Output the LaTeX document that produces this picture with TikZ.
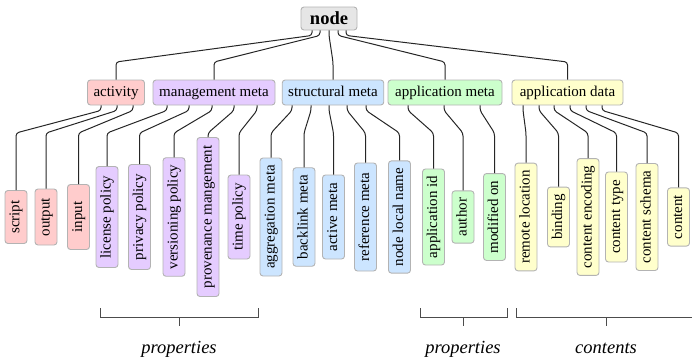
\documentclass[tikz,border=0pt]{standalone}
\usepackage{fontspec}
\setmainfont{Liberation Serif}

\definecolor{rootfill}{HTML}{E6E6E6}
\definecolor{actfill}{HTML}{FFCCCC}
\definecolor{mgmtfill}{HTML}{E5CCFF}
\definecolor{structfill}{HTML}{CCE5FF}
\definecolor{ametafill}{HTML}{CCFFCC}
\definecolor{adatafill}{HTML}{FFFFCC}
\definecolor{boxline}{HTML}{B3B3B3}

\begin{document}
\begin{tikzpicture}[x=1pt, y=-1pt,
    every node/.style={inner ysep=0pt},
    box/.style={draw=boxline, line width=0.9pt, rounded corners=3pt, inner xsep=6pt,
      minimum height=25pt, text height=10.5pt, text depth=3.5pt,
      font=\fontsize{15}{18}\selectfont},
    leaf/.style={box, rotate=90, inner xsep=7pt, minimum height=22pt},
    link/.style={draw=black!85, line width=1pt, rounded corners=3pt},
    brace/.style={draw=black!70, line width=1pt},
    group/.style={anchor=base, font=\fontsize{18.5}{22}\selectfont\itshape}]
  \useasboundingbox (0,0) rectangle (692,356);

  % Root
  \node[box, fill=rootfill, minimum width=56pt, minimum height=23pt, text height=12.5pt,
    text depth=0pt, font=\fontsize{18.5}{22}\selectfont\bfseries] (root) at (329,18.5) {node};

  % Categories
  \node[box, fill=actfill, minimum width=56pt] (act) at (116,92.5) {activity};
  \node[box, fill=mgmtfill, minimum width=122pt] (mgmt) at (214,92.5) {management meta};
  \node[box, fill=structfill, minimum width=100pt] (struct) at (333,92.5) {structural meta};
  \node[box, fill=ametafill, minimum width=114pt] (ameta) at (445,92.5) {application meta};
  \node[box, fill=adatafill, minimum width=111pt] (adata) at (567.5,92.5) {application data};

  \foreach \name/\dx in {act/-17, mgmt/-9, struct/0, ameta/9, adata/17} {
    \draw[link] (root.south) ++(\dx,0) -- ++(0,5) -- (\name.north |- 0,62) -- (\name.north);
  }

  % Leaves: text / x / length / anchor offset on the parent
  \foreach \txt/\x/\len/\dx [count=\i] in {script/16/53/-15, output/46/56/1, input/78.5/65/17} {
    \node[leaf, fill=actfill, minimum width=\len pt] (act\i) at (\x,217) {\txt};
    \draw[link] (act.south) ++(\dx,0) -- ++(0,5) -- (act\i.east |- 0,133) -- (act\i.east);
  }
  \foreach \txt/\x/\len/\dx [count=\i] in {license policy/107/101/-47, privacy policy/139.5/105/-25,
      versioning policy/174/113/-2, provenance mangement/208/159/20, time policy/239/84/43} {
    \node[leaf, fill=mgmtfill, minimum width=\len pt] (mgmt\i) at (\x,217) {\txt};
    \draw[link] (mgmt.south) ++(\dx,0) -- ++(0,5) -- (mgmt\i.east |- 0,133) -- (mgmt\i.east);
  }
  \foreach \txt/\x/\len/\dx [count=\i] in {aggregation meta/271/118/-41, backlink meta/304/92/-22,
      active meta/333.5/84/-4, reference meta/365.5/108/14, node local name/399.5/112/33} {
    \node[leaf, fill=structfill, minimum width=\len pt] (struct\i) at (\x,217) {\txt};
    \draw[link] (struct.south) ++(\dx,0) -- ++(0,5) -- (struct\i.east |- 0,133) -- (struct\i.east);
  }
  \foreach \txt/\x/\len/\dx [count=\i] in {application id/433.5/95/-37, author/463/52/-1,
      modified on/494.5/84/35} {
    \node[leaf, fill=ametafill, minimum width=\len pt] (ameta\i) at (\x,217) {\txt};
    \draw[link] (ameta.south) ++(\dx,0) -- ++(0,5) -- (ameta\i.east |- 0,133) -- (ameta\i.east);
  }
  \foreach \txt/\x/\len/\dx [count=\i] in {remote location/526/107/-44.5, binding/558.5/54/-28.5,
      content encoding/588/114/-13.5, content type/616.5/90/2.5, content schema/647/107/18.5,
      content/678.5/56/34.5} {
    \node[leaf, fill=adatafill, minimum width=\len pt] (adata\i) at (\x,217) {\txt};
    \draw[link] (adata.south) ++(\dx,0) -- ++(0,5) -- (adata\i.east |- 0,133) -- (adata\i.east);
  }

  % Groupings
  \draw[brace] (100,308) -- (100,317) -- (258,317) -- (258,308) (179,317) -- (179,326);
  \draw[brace] (420,308) -- (420,317) -- (507,317) -- (507,308) (463,317) -- (463,326);
  \draw[brace] (516,308) -- (516,317) -- (696,317) -- (696,308) (606,317) -- (606,326);
  \node[group] (props) at (179,353) {properties};
  \node[group] (aprops) at (463,353) {properties};
  \node[group] (conts) at (606,353) {contents};
\end{tikzpicture}
\end{document}
